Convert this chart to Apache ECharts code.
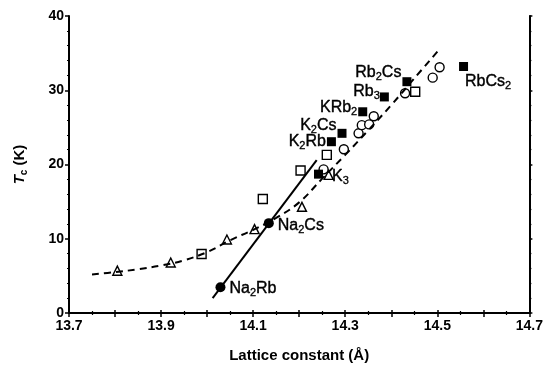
<!DOCTYPE html>
<html>
<head>
<meta charset="utf-8">
<script src="https://cdn.jsdelivr.net/npm/echarts@6/dist/echarts.min.js"></script>
<style>
  html, body { margin: 0; padding: 0; background: #fff; }
  #chart { width: 546px; height: 371px; }
</style>
</head>
<body>
<div id="chart"></div>
<script>
// Tc versus lattice constant for A3C60 fullerides

// Guide curves
const dashedCurve = [
  [13.75, 5.2], [13.80, 5.5], [13.85, 5.9], [13.90, 6.4], [13.95, 7.1],
  [14.00, 8.2], [14.05, 9.8], [14.10, 11.2], [14.15, 12.8], [14.20, 14.9],
  [14.25, 18.1], [14.30, 21.3], [14.35, 24.6], [14.40, 28.0], [14.45, 31.6],
  [14.503, 35.4]
];
const solidLine = [[14.012, 2.0], [14.238, 20.6]];

// Open symbols
const openTriangles = [
  [13.805, 5.7], [13.921, 6.8], [14.043, 9.9], [14.103, 11.3],
  [14.206, 14.3], [14.264, 18.6]
];
const openSquares = [
  [13.988, 7.95], [14.121, 15.35], [14.203, 19.2], [14.26, 21.3], [14.452, 29.8]
];
const openCircles = [
  [14.253, 19.35], [14.297, 22.05], [14.329, 24.2], [14.336, 25.3],
  [14.352, 25.4], [14.362, 26.5], [14.43, 29.6], [14.49, 31.7], [14.505, 33.1]
];

// Labelled compounds
const squareNames = ['K3', 'K2Rb', 'K2Cs', 'KRb2', 'Rb3', 'Rb2Cs', 'RbCs2'];
const squareX = [14.242, 14.270, 14.293, 14.338, 14.385, 14.434, 14.557];
const squareY = [18.7, 23.07, 24.2, 27.1, 29.1, 31.15, 33.2];

const circleNames = ['Na2Cs', 'Na2Rb'];
const circleX = [14.134, 14.029];
const circleY = [12.1, 3.46];

// Axis ticks
const xTickLabels = ['13.7', '13.9', '14.1', '14.3', '14.5', '14.7'];
const yTickLabels = ['0', '10', '20', '30', '40'];

// Label placement for each compound: [side, distance, dx, dy]
const labelPlace = {
  'K3':    ['right', 4, 5, 2],
  'K2Rb':  ['left', 1, 0, 0],
  'K2Cs':  ['left', 1, 0, -8],
  'KRb2':  ['left', 1, 0, -4],
  'Rb3':   ['left', 0, 0, -5],
  'Rb2Cs': ['left', 1, 0, -9],
  'RbCs2': ['right', 4, -7, 15],
  'Na2Cs': ['right', 4, 0, 2],
  'Na2Rb': ['right', 4, 0, 1]
};

const FONT = '"Liberation Sans", Arial, Helvetica, sans-serif';

// "K2Rb" -> rich text with subscript digits
function chem(name) {
  return name.replace(/([A-Za-z]+)|(\d+)/g, (m, letters, digits) =>
    letters ? '{n|' + letters + '}' : '{s|' + digits + '}');
}
const chemRich = {
  n: { fontFamily: FONT, fontSize: 16, color: '#000', lineHeight: 20, verticalAlign: 'middle',
       textBorderColor: '#000', textBorderWidth: 0.4 },
  s: { fontFamily: FONT, fontSize: 11, color: '#000', lineHeight: 11, verticalAlign: 'bottom',
       textBorderColor: '#000', textBorderWidth: 0.3 }
};

function labelled(names, xs, ys) {
  return names.map((nm, i) => {
    const p = labelPlace[nm];
    return {
      value: [xs[i], ys[i]],
      label: {
        show: true,
        position: p[0],
        distance: p[1],
        offset: [p[2], p[3]],
        formatter: chem(nm),
        color: '#000',
        rich: chemRich
      }
    };
  });
}

const pairs = (arr) => arr.map(d => [d[0], d[1]]);

const axisLine = { lineStyle: { color: '#000', width: 2 } };
const tickStyle = { lineStyle: { color: '#000', width: 1.5 } };
const openStyle = { color: '#fff', borderColor: '#000', borderWidth: 1.4, opacity: 1 };
const filledStyle = { color: '#000', opacity: 1 };

const chart = echarts.init(document.getElementById('chart'), null, { renderer: 'canvas' });

chart.setOption({
  backgroundColor: '#fff',
  animation: false,
  grid: { left: 69, right: 15, top: 16, bottom: 58 },
  xAxis: [
    {
      type: 'value', min: 13.7, max: 14.7, interval: 0.1, position: 'bottom',
      axisLine: axisLine,
      axisTick: Object.assign({ length: 4 }, tickStyle),
      minorTick: { show: true, splitNumber: 2, length: 2, lineStyle: { color: '#000', width: 1.2 } },
      splitLine: { show: false },
      axisLabel: {
        margin: 6,
        fontFamily: FONT, fontSize: 14, fontWeight: 'bold', color: '#000',
        formatter: (v) => {
          const s = v.toFixed(1);
          return xTickLabels.indexOf(s) >= 0 ? s : '';
        }
      },
      name: 'Lattice constant (Å)',
      nameLocation: 'middle',
      nameGap: 35,
      nameTextStyle: { fontFamily: FONT, fontSize: 15, fontWeight: 'bold', color: '#000' }
    },
    {
      type: 'value', min: 13.7, max: 14.7, interval: 0.1, position: 'top',
      axisLine: axisLine,
      axisTick: Object.assign({ length: 3 }, tickStyle),
      minorTick: { show: true, splitNumber: 2, length: 2, lineStyle: { color: '#000', width: 1.2 } },
      splitLine: { show: false },
      axisLabel: { show: false }
    }
  ],
  yAxis: [
    {
      type: 'value', min: 0, max: 40, interval: 10, position: 'left',
      axisLine: axisLine,
      axisTick: Object.assign({ length: 4 }, tickStyle),
      minorTick: { show: true, splitNumber: 5, length: 2, lineStyle: { color: '#000', width: 1.2 } },
      splitLine: { show: false },
      axisLabel: {
        margin: 5,
        fontFamily: FONT, fontSize: 14, fontWeight: 'bold', color: '#000',
        formatter: (v) => {
          const s = String(Math.round(v));
          return yTickLabels.indexOf(s) >= 0 ? s : '';
        }
      },
      name: '{t|T}{c|c}{k| (K)}',
      nameLocation: 'middle',
      nameGap: 40,
      nameTextStyle: {
        rich: {
          t: { fontFamily: FONT, fontSize: 15, fontWeight: 'bold', fontStyle: 'italic', color: '#000', lineHeight: 18, verticalAlign: 'middle' },
          c: { fontFamily: FONT, fontSize: 10, fontWeight: 'bold', color: '#000', lineHeight: 10, verticalAlign: 'bottom' },
          k: { fontFamily: FONT, fontSize: 15, fontWeight: 'bold', color: '#000', lineHeight: 18, verticalAlign: 'middle' }
        }
      }
    },
    {
      type: 'value', min: 0, max: 40, interval: 10, position: 'right',
      axisLine: axisLine,
      axisTick: Object.assign({ length: 3 }, tickStyle),
      minorTick: { show: true, splitNumber: 5, length: 2, lineStyle: { color: '#000', width: 1.2 } },
      splitLine: { show: false },
      axisLabel: { show: false }
    }
  ],
  series: [
    {
      name: 'dashed guide', type: 'line', smooth: 0.4, showSymbol: false, silent: true,
      data: pairs(dashedCurve),
      lineStyle: { color: '#000', width: 2, type: [7, 5] }
    },
    {
      name: 'solid guide', type: 'line', showSymbol: false, silent: true,
      data: pairs(solidLine),
      lineStyle: { color: '#000', width: 2 }
    },
    {
      name: 'open triangles', type: 'scatter', symbol: 'triangle', symbolSize: 9,
      data: pairs(openTriangles), itemStyle: openStyle
    },
    {
      name: 'open squares', type: 'scatter', symbol: 'rect', symbolSize: 9,
      data: pairs(openSquares), itemStyle: openStyle
    },
    {
      name: 'open circles', type: 'scatter', symbol: 'circle', symbolSize: 9,
      data: pairs(openCircles), itemStyle: openStyle
    },
    {
      name: 'filled squares', type: 'scatter', symbol: 'rect', symbolSize: 9,
      data: labelled(squareNames, squareX, squareY), itemStyle: filledStyle
    },
    {
      name: 'filled circles', type: 'scatter', symbol: 'circle', symbolSize: 10,
      data: labelled(circleNames, circleX, circleY), itemStyle: filledStyle
    }
  ]
});
</script>
</body>
</html>
